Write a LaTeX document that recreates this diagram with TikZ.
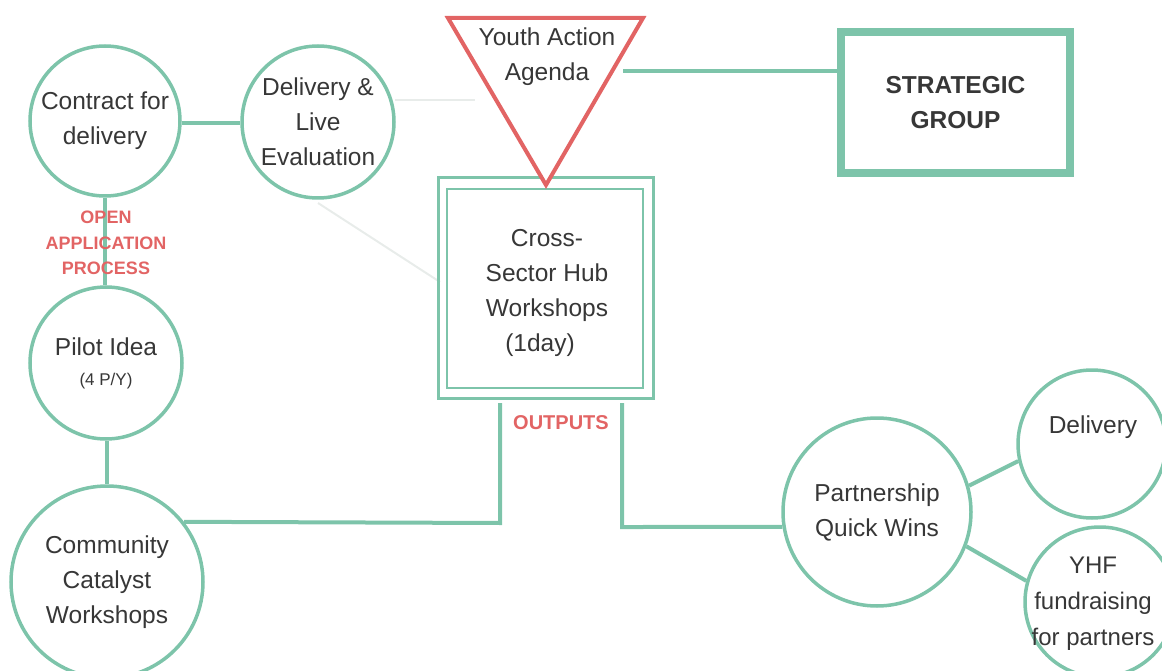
\documentclass[tikz,border=0pt]{standalone}
\usepackage{fontspec}
\setmainfont{Liberation Sans}
\usetikzlibrary{shapes.geometric}
\definecolor{teal1}{RGB}{125,196,170}
\definecolor{red1}{RGB}{226,100,100}
\definecolor{txt}{RGB}{55,55,55}
\definecolor{faint}{RGB}{232,236,234}
\begin{document}
\begin{tikzpicture}[x=1pt,y=-1pt,
  circ/.style={circle,draw=teal1,line width=3.5pt,fill=white,text=txt,align=center,inner sep=0pt,font=\fontsize{24.5}{35}\selectfont},
  conn/.style={draw=teal1,line width=4pt},
  faintline/.style={draw=faint,line width=2pt},
  redlab/.style={text=red1,font=\bfseries,align=center}]
\useasboundingbox (0,0) rectangle (1162,671);
% faint lines (behind)
\coordinate (f1a) at (395,100);
\coordinate (f1b) at (475,100);
\coordinate (f2a) at (318,203);
\coordinate (f2b) at (440,282);
\draw[faintline] (f1a) -- (f1b);
\draw[faintline] (f2a) -- (f2b);
% nodes
\node[circ,minimum size=150pt] (contract) at (105,121) {Contract for\\delivery};
\node[circ,minimum size=152pt] (live) at (318,122) {Delivery \&\\Live\\Evaluation};
\node[circ,minimum size=152pt] (pilot) at (106,363) {Pilot Idea\\[-5pt]{\fontsize{17}{20}\selectfont (4 P/Y)}};
\node[circ,minimum size=192pt] (community) at (107,582) {Community\\Catalyst\\Workshops};
\node[circ,minimum size=188pt] (partner) at (877,512) {Partnership\\Quick Wins};
\node[circ,minimum size=148pt] (delivery) at (1092,444) {};
\node[text=txt,font=\fontsize{24.5}{35}\selectfont] (deliverytxt) at (1093,427) {Delivery};
\node[circ,minimum size=150pt] (yhf) at (1100,602) {};
\node[text=txt,align=center,font=\fontsize{24}{36}\selectfont] (yhftxt) at (1093,604) {YHF\\fundraising\\for partners};
% hub box
\draw[teal1,line width=3pt] (438,178) rectangle (653,398);
\node[draw=teal1,line width=2.5pt,minimum width=196pt,minimum height=199pt,inner sep=0pt] (hub) at (545,288.5) {};
\node[text=txt,align=center,font=\fontsize{24.5}{35}\selectfont] (hubtxt) at (547,293) {Cross-\\Sector Hub\\Workshops\\(1day)\hspace*{14pt}};
% triangle
\coordinate (t1) at (448,18);
\coordinate (t2) at (643,18);
\coordinate (t3) at (546,185);
\draw[red1,line width=4pt,line join=miter,fill=white] (t1) -- (t2) -- (t3) -- cycle;
\node[text=txt,align=center,font=\fontsize{24.5}{35}\selectfont] (yaa) at (547,57) {Youth Action\\Agenda};
% strategic group
\node[draw=teal1,line width=8pt,minimum width=229pt,minimum height=141pt,text=txt,align=center,font=\bfseries\fontsize{24.5}{35}\selectfont] (strat) at (955.5,102.5) {STRATEGIC\\GROUP};
% connectors
\coordinate (ya) at (623,71);
\draw[conn] (ya) -- (strat.west |- ya);
\draw[conn] (contract.east |- 0,123) -- (live.west |- 0,123);
\draw[conn] (contract.south) -- (contract.south |- pilot.north);
\draw[conn] (community.north |- pilot.south) -- (community.north);
\coordinate (hl) at (500,403);
\coordinate (hr) at (622,403);
\draw[conn] (hl) -- (500,523) -- (community.38);
\draw[conn] (hr) -- (622,527) -- (partner.189);
\draw[conn] (partner.16) -- (delivery.193);
\draw[conn] (partner.-21) -- (yhf.164);
% labels
\node[redlab,font=\bfseries\fontsize{18}{25.5}\selectfont,inner sep=1pt] (oap) at (106,243) {OPEN\\APPLICATION\\PROCESS};
\node[redlab,font=\bfseries\fontsize{20}{24}\selectfont] (outputs) at (561,423) {OUTPUTS};
\end{tikzpicture}
\end{document}
